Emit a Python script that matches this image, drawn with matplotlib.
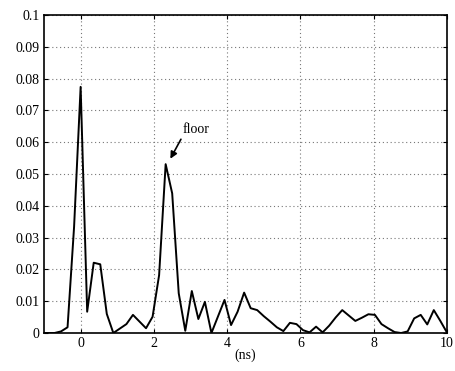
import matplotlib
matplotlib.use("Agg")
import matplotlib.pyplot as plt
import numpy as np

plt.rcParams['font.family'] = ['Liberation Serif', 'DejaVu Serif']

# samples every 1/5.6 ns, index -6 .. 56
step = 1 / 5.6
idx = np.arange(-6, 57)
amp = [0, 0, 0, 0.0005, 0.0018, 0.0334,
       0.0774, 0.0067, 0.0221, 0.0216, 0.006, 0.0, 0.0014, 0.0028, 0.0057, 0.0036,
       0.0015, 0.0051, 0.0182, 0.0531, 0.0439, 0.0125, 0.0007, 0.0132, 0.0044, 0.0098,
       0.0, 0.0052, 0.0104, 0.0025, 0.0067, 0.0127, 0.0078, 0.0072, 0.0053, 0.0036,
       0.0018, 0.0006, 0.0032, 0.0028, 0.0009, 0.0002, 0.002, 0.0002, 0.0023, 0.0049,
       0.0072, 0.0055, 0.0038, 0.0048, 0.0059, 0.0057, 0.0028, 0.0015, 0.0003, 0.0,
       0.0005, 0.0046, 0.0057, 0.0027, 0.0072, 0.0038, 0.0002]
t = idx * step

fig = plt.figure(figsize=(4.56, 3.71), dpi=100)
ax = fig.add_axes([0.0965, 0.1024, 0.8835, 0.8572])

ax.plot(t, amp, color='black', linewidth=1.4)
ax.set_xlim(-1, 10)
ax.set_ylim(0, 0.1)
ax.set_xticks([0, 2, 4, 6, 8, 10])
ax.set_yticks(np.arange(0, 0.1001, 0.01))
ax.set_yticklabels(['0', '0.01', '0.02', '0.03', '0.04', '0.05',
                    '0.06', '0.07', '0.08', '0.09', '0.1'])
ax.tick_params(direction='in', top=True, right=True, labelsize=10, length=3,
               width=0.8, pad=3)
ax.grid(True, linestyle=(0, (1, 2.5)), color='#777777', linewidth=0.8)
for s in ax.spines.values():
    s.set_linewidth(1.2)
ax.set_xlabel('(ns)', fontsize=10, labelpad=-1)

ax.annotate('floor', xy=(2.45, 0.0548), xytext=(2.78, 0.0618),
            fontsize=10, ha='left', va='bottom',
            arrowprops=dict(arrowstyle='-|>', color='black', lw=1.2,
                            mutation_scale=10, shrinkA=0, shrinkB=0,
                            relpos=(0.0, 0.0)))

fig.savefig("out.png", dpi=100)
